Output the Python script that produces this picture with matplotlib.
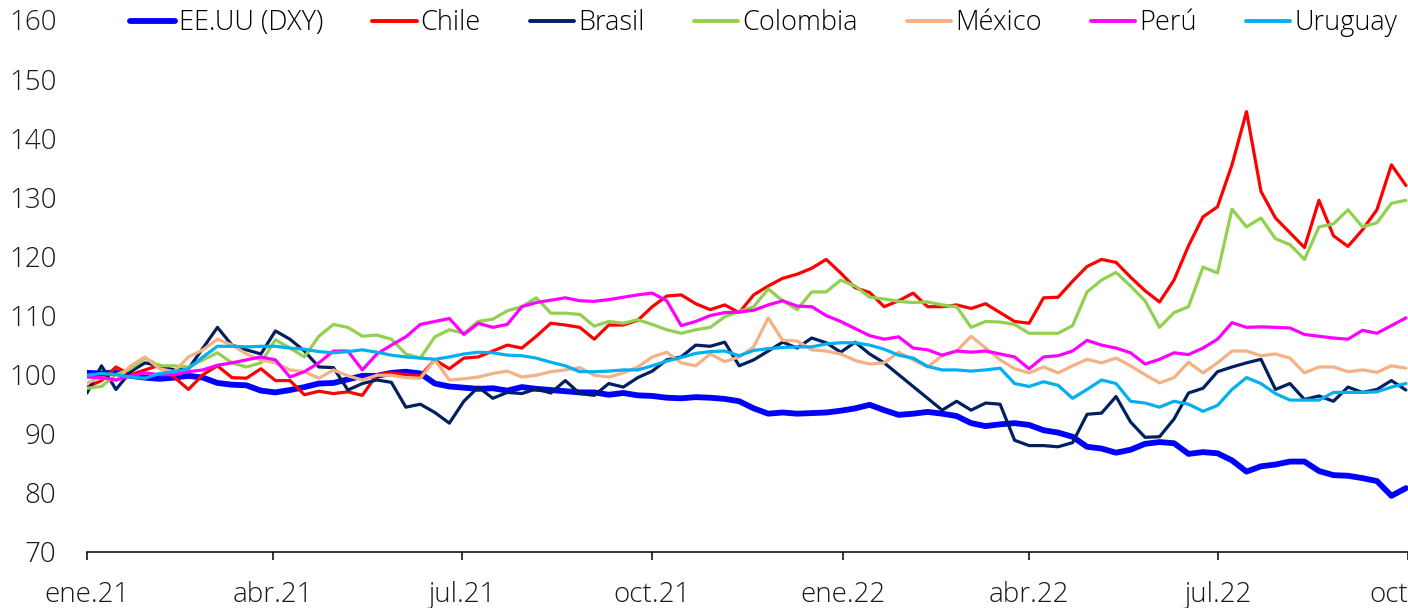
import numpy as np
import matplotlib
matplotlib.use("Agg")
import matplotlib.pyplot as plt
import pandas as pd

#---------Data (weekly readings, index base ene.21 = 100)-----------
dates = pd.date_range("2021-01-01", periods=92, freq="7D")

eeuu = [100.3, 100.2, 100.4, 99.8, 99.5, 99.3, 99.5, 99.8, 99.5, 98.6,
        98.3, 98.2, 97.3, 97.0, 97.4, 97.9, 98.5, 98.6, 99.2, 99.8,
        99.8, 100.3, 100.5, 100.2, 98.5, 98.0, 97.8, 97.6, 97.7, 97.3,
        97.9, 97.6, 97.4, 97.2, 97.0, 97.0, 96.6, 96.9, 96.5, 96.4,
        96.1, 96.0, 96.2, 96.1, 95.9, 95.5, 94.3, 93.4, 93.6, 93.4,
        93.5, 93.6, 93.9, 94.3, 94.9, 94.0, 93.2, 93.4, 93.7, 93.4,
        93.0, 91.8, 91.3, 91.6, 91.8, 91.5, 90.6, 90.2, 89.5, 87.8,
        87.5, 86.8, 87.3, 88.3, 88.6, 88.4, 86.6, 86.9, 86.7, 85.5,
        83.6, 84.5, 84.8, 85.3, 85.3, 83.7, 83.0, 82.9, 82.5, 82.0,
        79.5, 80.8]

chile = [97.9, 99.0, 101.3, 100.0, 100.8, 101.6, 99.6, 97.5, 100.0, 101.5,
         99.5, 99.4, 101.0, 99.0, 99.0, 96.6, 97.2, 96.8, 97.1, 96.5,
         100.0, 100.3, 100.0, 99.8, 102.5, 101.0, 102.8, 103.0, 104.0, 105.0,
         104.5, 106.5, 108.7, 108.4, 108.0, 106.0, 108.4, 108.4, 109.2, 111.5,
         113.3, 113.5, 112.0, 111.0, 111.8, 110.5, 113.5, 115.0, 116.3, 117.0,
         118.0, 119.5, 117.2, 114.7, 113.9, 111.5, 112.5, 113.8, 111.5, 111.5,
         111.8, 111.2, 112.0, 110.5, 109.0, 108.7, 113.0, 113.1, 115.8, 118.3,
         119.5, 119.0, 116.5, 114.2, 112.3, 116.0, 121.8, 126.7, 128.4, 135.5,
         144.5, 131.0, 126.5, 124.0, 121.5, 129.5, 123.5, 121.7, 124.5, 127.9,
         135.5, 132.0]

brasil = [96.9, 101.5, 97.5, 100.5, 102.0, 101.5, 100.8, 101.0, 104.5, 108.0,
          105.0, 104.2, 103.5, 107.4, 106.0, 104.0, 101.3, 101.2, 97.4, 98.5,
          99.1, 98.7, 94.5, 95.0, 93.6, 91.8, 95.5, 97.9, 96.0, 97.0,
          96.8, 97.6, 96.9, 99.0, 96.8, 96.5, 98.5, 97.9, 99.5, 100.6,
          102.5, 103.0, 105.0, 104.8, 105.5, 101.5, 102.5, 104.0, 105.5, 104.5,
          106.2, 105.4, 103.8, 105.5, 103.5, 102.0, 100.0, 98.0, 96.0, 94.0,
          95.5, 94.0, 95.2, 95.0, 88.9, 88.0, 88.0, 87.8, 88.5, 93.3,
          93.5, 96.3, 92.0, 89.4, 89.5, 92.5, 96.9, 97.7, 100.5, 101.3,
          102.0, 102.6, 97.5, 98.5, 95.8, 96.4, 95.5, 97.9, 97.0, 97.5,
          99.0, 97.4]

colombia = [97.7, 98.0, 100.0, 101.0, 102.8, 101.5, 101.5, 101.3, 102.5, 103.7,
            102.0, 101.3, 102.0, 105.9, 104.5, 103.0, 106.5, 108.5, 108.0, 106.5,
            106.7, 106.0, 103.5, 102.8, 106.4, 107.6, 107.0, 109.0, 109.4, 110.8,
            111.5, 113.0, 110.4, 110.4, 110.2, 108.2, 109.0, 108.7, 109.3, 108.5,
            107.6, 107.0, 107.6, 108.0, 109.8, 110.7, 111.5, 114.5, 112.5, 111.0,
            114.0, 114.0, 116.0, 115.0, 113.1, 112.8, 112.4, 112.2, 112.3, 111.8,
            111.5, 108.0, 109.0, 108.9, 108.5, 107.0, 107.0, 107.0, 108.3, 114.0,
            116.0, 117.3, 115.0, 112.5, 108.0, 110.5, 111.5, 118.2, 117.2, 128.0,
            125.0, 126.5, 123.0, 122.0, 119.5, 125.0, 125.5, 127.9, 125.0, 125.7,
            129.0, 129.5]

mexico = [98.6, 99.5, 99.0, 101.5, 103.0, 101.0, 100.5, 103.0, 104.2, 106.0,
          105.0, 103.5, 102.5, 102.0, 100.8, 100.5, 99.4, 100.8, 99.8, 99.1,
          99.9, 99.9, 99.5, 99.4, 102.5, 99.1, 99.3, 99.6, 100.2, 100.6,
          99.6, 99.9, 100.5, 100.8, 101.2, 99.9, 99.6, 100.3, 101.3, 103.0,
          103.8, 102.0, 101.5, 103.5, 102.2, 103.0, 104.7, 109.6, 105.8, 105.7,
          104.2, 104.0, 103.5, 102.4, 101.8, 102.0, 103.8, 102.5, 101.3, 103.2,
          104.0, 106.5, 104.5, 102.5, 101.0, 100.3, 101.3, 100.3, 101.5, 102.6,
          102.0, 102.8, 101.5, 100.0, 98.6, 99.5, 102.1, 100.3, 102.0, 104.0,
          104.0, 103.2, 103.5, 102.8, 100.3, 101.3, 101.3, 100.5, 100.8, 100.4,
          101.5, 101.1]

peru = [99.6, 99.5, 99.1, 99.8, 100.3, 100.0, 100.0, 100.5, 100.8, 101.6,
        102.0, 102.5, 103.0, 102.5, 99.6, 100.5, 102.0, 104.0, 104.0, 100.8,
        103.5, 105.0, 106.4, 108.5, 109.0, 109.5, 106.8, 108.7, 108.0, 108.5,
        111.5, 112.2, 112.6, 113.0, 112.5, 112.4, 112.7, 113.1, 113.5, 113.8,
        112.5, 108.3, 109.0, 110.0, 110.5, 110.6, 110.9, 111.8, 112.5, 111.6,
        111.5, 110.0, 109.0, 107.8, 106.6, 106.0, 106.4, 104.5, 104.2, 103.3,
        104.0, 103.8, 104.0, 103.5, 103.0, 101.0, 103.0, 103.2, 104.0, 105.8,
        105.0, 104.5, 103.7, 101.8, 102.6, 103.7, 103.4, 104.5, 106.0, 108.8,
        108.0, 108.1, 108.0, 107.9, 106.8, 106.5, 106.2, 106.0, 107.5, 107.0,
        108.3, 109.6]

uruguay = [99.9, 100.2, 100.0, 99.6, 99.4, 100.2, 100.5, 101.0, 103.0, 104.8,
           104.8, 104.7, 104.8, 104.8, 104.5, 104.3, 103.9, 103.7, 103.9, 104.2,
           103.8, 103.3, 103.0, 102.8, 102.6, 103.0, 103.5, 103.8, 103.7, 103.3,
           103.2, 102.8, 102.1, 101.5, 100.5, 100.5, 100.6, 100.8, 100.8, 101.5,
           102.3, 102.9, 103.6, 103.9, 104.0, 103.2, 104.1, 104.4, 104.6, 104.7,
           104.7, 105.2, 105.4, 105.4, 105.0, 104.3, 103.3, 102.8, 101.4, 100.8,
           100.8, 100.6, 100.8, 101.1, 98.5, 98.0, 98.8, 98.2, 96.0, 97.5,
           99.1, 98.5, 95.5, 95.2, 94.5, 95.5, 95.0, 93.8, 94.8, 97.5,
           99.5, 98.5, 96.8, 95.7, 95.7, 95.7, 97.0, 97.0, 97.0, 97.1,
           97.9, 98.5]

names = ["EE.UU (DXY)", "Chile", "Brasil", "Colombia", "México", "Perú", "Uruguay"]
series = [eeuu, chile, brasil, colombia, mexico, peru, uruguay]
colors = ["#0000FF", "#FF0000", "#002060", "#92D050", "#F4B183", "#FF00FF", "#00B0F0"]
widths = [4.2, 2.3, 2.3, 2.3, 2.3, 2.3, 2.3]

tick_dates = pd.to_datetime(["2021-01-01", "2021-04-01", "2021-07-01", "2021-10-01",
                             "2022-01-01", "2022-04-01", "2022-07-01", "2022-10-01"])
tick_labels = ["ene.21", "abr.21", "jul.21", "oct.21", "ene.22", "abr.22", "jul.22", "oct.22"]

#---------Plot-----------
plt.rcParams["font.family"] = ["Open Sans", "DejaVu Sans"]
plt.rcParams["font.weight"] = "light"
plt.rcParams["font.size"] = 19.5

fig = plt.figure(figsize=(14.08, 6.08), dpi=100)
ax = fig.add_axes([87 / 1408, 56 / 608, 1 - 87 / 1408, 532 / 608])

for vals, name, c, lw in zip(series, names, colors, widths):
    ax.plot(dates, vals, color=c, lw=lw, label=name, solid_capstyle="round")

ax.set_ylim(70, 160)
ax.set_yticks(np.arange(70, 161, 10))
ax.set_xlim(pd.Timestamp("2021-01-01"), pd.Timestamp("2022-10-01"))
ax.set_xticks(tick_dates)
ax.set_xticklabels(tick_labels)

for s in ["left", "right", "top"]:
    ax.spines[s].set_visible(False)
ax.spines["bottom"].set_linewidth(1.1)
ax.spines["bottom"].set_clip_on(False)
ax.tick_params(axis="y", length=0, pad=22, labelsize=20, labelcolor="#1a1a1a")
ax.tick_params(axis="x", length=6, width=1.1, direction="out", pad=15,
               labelsize=20, labelcolor="#1a1a1a")

leg = ax.legend(loc="center left", bbox_to_anchor=(130 / 1408, 1 - 23 / 608),
                bbox_transform=fig.transFigure, ncol=7, frameon=False,
                handlelength=1.65, handletextpad=0.15, columnspacing=1.8,
                borderpad=0, borderaxespad=0)
for line in leg.get_lines():
    line.set_linewidth(4.2 if line.get_label() == names[0] else 2.8)

fig.savefig("out.png", dpi=100)
